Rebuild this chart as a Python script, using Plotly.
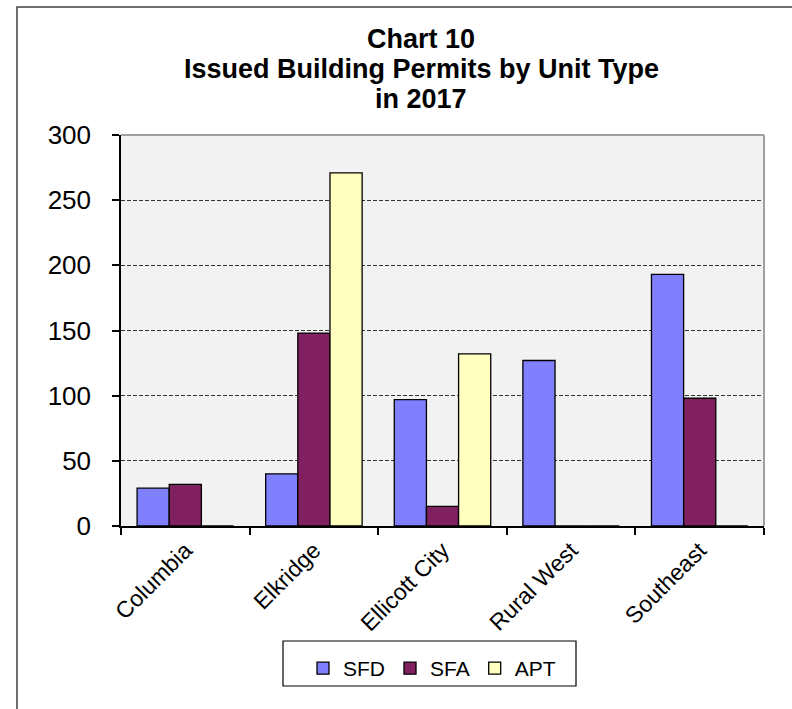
import plotly.graph_objects as go

categories = ["Columbia", "Elkridge", "Ellicott City", "Rural West", "Southeast"]
sfd = [29, 40, 97, 127, 193]
sfa = [32, 148, 15, 0, 98]
apt = [0, 271, 132, 0, 0]
y_ticks = [0, 50, 100, 150, 200, 250, 300]
title_lines = ["Chart 10", "Issued Building Permits by Unit Type", "in 2017"]
series = [("SFD", sfd, "#8080FF"), ("SFA", sfa, "#802060"), ("APT", apt, "#FFFFC0")]

W, H = 792, 709
L, R, T, B = 121, 764, 135, 526
pw, ph = R - L, B - T


def px(x):
    return (x - L) / pw


def py(y):
    return (B - y) / ph


fig = go.Figure()
for name, vals, col in series:
    fig.add_trace(go.Bar(
        x=categories, y=vals, name=name,
        marker=dict(color=col, line=dict(color="black", width=1.3)),
    ))

font_family = "Liberation Sans, Arial, sans-serif"

title_y = [39, 69, 99]
annotations = [
    dict(text="<b>%s</b>" % t, xref="paper", yref="paper", x=px(421), y=py(yy),
         xanchor="center", yanchor="middle", showarrow=False,
         font=dict(size=27, family=font_family, color="black"))
    for t, yy in zip(title_lines, title_y)
]

fig.update_layout(
    width=W, height=H,
    margin=dict(l=L, r=W - R, t=T, b=H - B, pad=0),
    paper_bgcolor="white",
    plot_bgcolor="#F2F2F2",
    barmode="group",
    bargap=0.25,
    bargroupgap=0,
    font=dict(family=font_family, color="black"),
    showlegend=True,
    legend=dict(
        orientation="h",
        x=px(303), y=py(648), xanchor="left", yanchor="top",
        font=dict(size=21, family=font_family, color="black"),
        bgcolor="rgba(0,0,0,0)", borderwidth=0,
        itemclick=False, itemdoubleclick=False,
    ),
    xaxis=dict(
        showline=True, linecolor="black", linewidth=1.5,
        ticks="outside", ticklen=7, tickcolor="black", tickwidth=1.5,
        tickson="boundaries",
        tickangle=-45,
        tickfont=dict(size=23, family=font_family, color="black"),
        showgrid=False,
    ),
    yaxis=dict(
        range=[0, 300],
        tickvals=y_ticks,
        showline=True, linecolor="black", linewidth=1.5,
        ticks="outside", ticklen=7, tickcolor="black", tickwidth=1.5,
        tickfont=dict(size=26, family=font_family, color="black"),
        ticklabelstandoff=16,
        showgrid=True, gridcolor="#333333", gridwidth=1, griddash="4px,2px",
        zeroline=False,
    ),
    annotations=annotations,
    shapes=[
        dict(type="rect", xref="paper", yref="paper",
             x0=px(17), x1=px(800), y0=py(720), y1=py(7),
             line=dict(color="#404040", width=1.5), layer="below"),
        dict(type="line", xref="paper", yref="paper", x0=0, x1=1, y0=1, y1=1,
             line=dict(color="#A0A0A0", width=2)),
        dict(type="line", xref="paper", yref="paper", x0=1, x1=1, y0=0, y1=1,
             line=dict(color="#A0A0A0", width=2)),
        dict(type="rect", xref="paper", yref="paper",
             x0=px(283), x1=px(576), y0=py(686), y1=py(641),
             line=dict(color="black", width=1.2)),
    ],
)

fig.write_html(
    "out.html",
    config={"displayModeBar": False},
    post_script="document.body.style.margin='0';document.body.style.overflow='hidden';",
)
